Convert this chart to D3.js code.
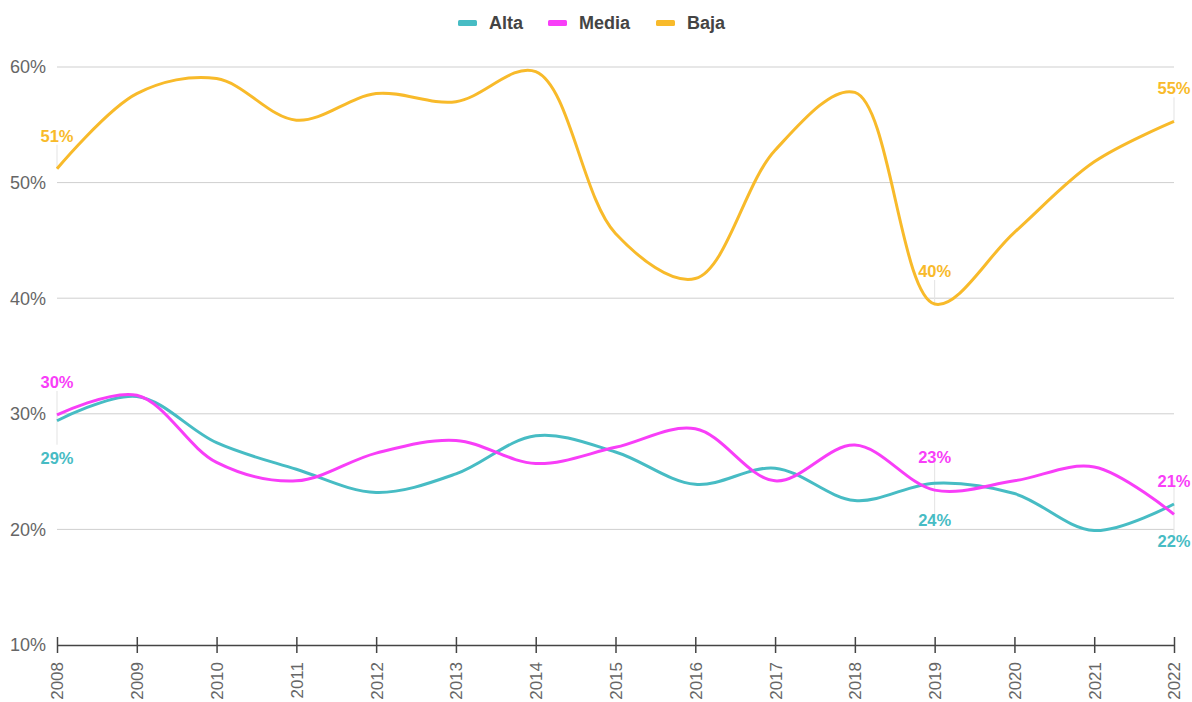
<!DOCTYPE html>
<html><head><meta charset="utf-8">
<script src="https://cdn.jsdelivr.net/npm/d3@7"></script>
<style>body{margin:0;background:#fff;font-family:"Liberation Sans",Arial,sans-serif;}</style>
</head><body>
<svg id="c" width="1192" height="702"></svg>
<script>
const years = [2008,2009,2010,2011,2012,2013,2014,2015,2016,2017,2018,2019,2020,2021,2022];
const alta  = [29.4,31.5,27.5,25.2,23.2,24.8,28.1,26.7,23.9,25.3,22.5,24.0,23.1,19.9,22.2];
const media = [29.9,31.6,25.8,24.2,26.6,27.7,25.7,27.1,28.7,24.2,27.3,23.4,24.2,25.4,21.3];
const baja  = [51.2,57.7,59.0,55.4,57.7,57.0,59.6,45.6,41.7,52.8,57.8,39.5,45.7,51.8,55.3];
const yTicks = [10,20,30,40,50,60];
const labelYears = [2008,2019,2022];

const series = [
  {name:"Alta", values:alta, color:"#47bcc4", pos:"below"},
  {name:"Media", values:media, color:"#f83ef8", pos:"above"},
  {name:"Baja", values:baja, color:"#f8ba2a", pos:"above"}
];
const FONT = "'Liberation Sans',Arial,sans-serif";

const svg = d3.select("#c").attr("font-family",FONT);
const x = d3.scaleLinear().domain([2008,2022]).range([57,1174]);
const y = d3.scaleLinear().domain([10,60]).range([645,67]);

// gridlines
svg.append("g").selectAll("line").data(yTicks.slice(1)).join("line")
  .attr("x1",x(2008)).attr("x2",x(2022))
  .attr("y1",d=>y(d)).attr("y2",d=>y(d))
  .attr("stroke","#cfcfcf").attr("stroke-width",1);

// y labels
svg.append("g").selectAll("text").data(yTicks).join("text")
  .attr("x",46).attr("y",d=>y(d)).attr("dy","0.35em")
  .attr("text-anchor","end").attr("fill","#666").attr("font-size",18)
  .text(d=>d+"%");

// x axis
const xAxis = d3.axisBottom(x).tickValues(years).tickFormat(d3.format("d")).tickSize(8).tickSizeOuter(0);
const gx = svg.append("g").attr("transform",`translate(0,${y(10)})`).call(xAxis);
gx.select(".domain").attr("stroke","#444").attr("stroke-width",1.5);
gx.selectAll(".tick line").attr("stroke","#444").attr("stroke-width",1.5).attr("y1",-8);
gx.selectAll(".tick text")
  .attr("transform","rotate(-90)").attr("text-anchor","end")
  .attr("x",-17).attr("y",0).attr("dy","0.35em")
  .attr("fill","#666").attr("font-size",17).attr("font-family",FONT);

// label connector lines
const lab = svg.append("g");
labelYears.forEach(yr=>{
  const i = years.indexOf(yr);
  const yA = y(alta[i]), yM = y(media[i]);
  lab.append("line").attr("x1",x(yr)).attr("x2",x(yr))
    .attr("y1",Math.min(yA,yM)-24).attr("y2",Math.max(yA,yM)+24)
    .attr("stroke","#e3e3e3").attr("stroke-width",1);
  lab.append("line").attr("x1",x(yr)).attr("x2",x(yr))
    .attr("y1",y(baja[i])-24).attr("y2",y(baja[i]))
    .attr("stroke","#e3e3e3").attr("stroke-width",1);
});

// lines
const line = d3.line().x((d,i)=>x(years[i])).y(d=>y(d)).curve(d3.curveCatmullRom.alpha(0.5));
svg.append("g").selectAll("path").data(series).join("path")
  .attr("d",d=>line(d.values)).attr("fill","none")
  .attr("stroke",d=>d.color).attr("stroke-width",3);

// value labels
series.forEach(s=>{
  labelYears.forEach(yr=>{
    const i = years.indexOf(yr);
    const v = s.values[i];
    svg.append("text").attr("x",x(yr))
      .attr("y", s.pos==="above" ? y(v)-33 : y(v)+37)
      .attr("dy","0.35em").attr("text-anchor","middle")
      .attr("fill",s.color).attr("font-size",16.5).attr("font-weight","bold")
      .text(Math.round(v)+"%");
  });
});

// legend
const legX = [458,548,656];
const leg = svg.append("g");
series.forEach((s,i)=>{
  leg.append("rect").attr("x",legX[i]).attr("y",20).attr("width",19).attr("height",6).attr("rx",1.5).attr("fill",s.color);
  leg.append("text").attr("x",legX[i]+31).attr("y",23).attr("dy","0.35em")
    .attr("fill","#444").attr("font-size",18).attr("font-weight","bold").text(s.name);
});
</script>
</body></html>
